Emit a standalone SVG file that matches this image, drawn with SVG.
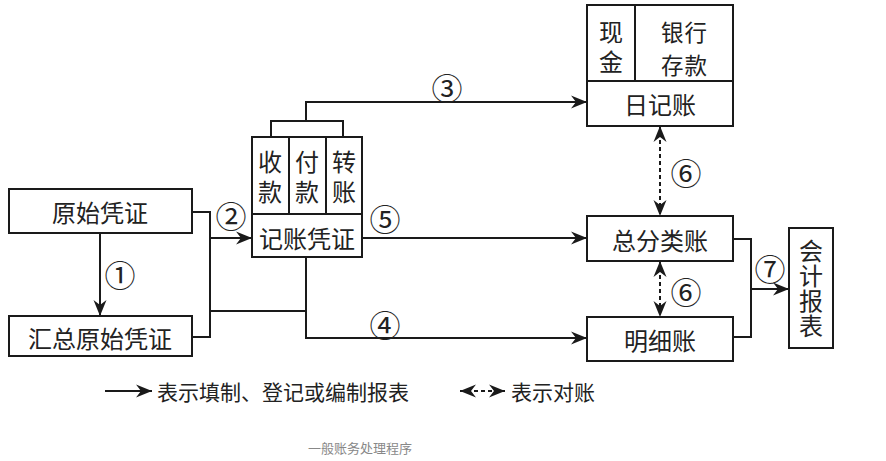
<svg xmlns="http://www.w3.org/2000/svg" width="886" height="461" viewBox="0 0 886 461">
<style>
.bx{fill:#fff;stroke:#1a1a1a;stroke-width:2}
.ln{fill:none;stroke:#1a1a1a;stroke-width:2}
.ar{fill:none;stroke:#1a1a1a;stroke-width:2;marker-end:url(#ah)}
.da{fill:none;stroke:#1a1a1a;stroke-width:2;stroke-dasharray:4 3;marker-start:url(#ahs);marker-end:url(#ah)}
.t{font-family:"Noto Sans CJK SC","Noto Sans",sans-serif;font-size:24px;fill:#222;text-anchor:middle;dominant-baseline:central}
.s{font-family:"Noto Sans CJK SC","Noto Sans",sans-serif;font-size:22.5px;letter-spacing:1px;fill:#222;text-anchor:middle;dominant-baseline:central}
.v{font-family:"Noto Sans CJK SC","Noto Sans",sans-serif;font-size:24px;fill:#222;text-anchor:middle;writing-mode:vertical-rl;letter-spacing:6px}
.n{font-family:"Noto Sans CJK SC","DejaVu Sans",sans-serif;font-size:31px;fill:#222;text-anchor:middle;dominant-baseline:central}
.lg{font-family:"Noto Sans CJK SC","Noto Sans",sans-serif;font-size:21px;fill:#222;dominant-baseline:central}
.cap{font-family:"Noto Sans CJK SC","Noto Sans",sans-serif;font-size:13px;fill:#888;text-anchor:middle;dominant-baseline:central}
</style>
<defs>
<marker id="ah" markerUnits="userSpaceOnUse" markerWidth="18" markerHeight="14" viewBox="0 -7 18 14" refX="16" refY="0" orient="auto">
<path d="M0,-6.5 L16,0 L0,6.5 L5,0 z" fill="#1a1a1a"/>
</marker>
<marker id="ahs" markerUnits="userSpaceOnUse" markerWidth="18" markerHeight="14" viewBox="0 -7 18 14" refX="16" refY="0" orient="auto-start-reverse">
<path d="M0,-6.5 L16,0 L0,6.5 L5,0 z" fill="#1a1a1a"/>
</marker>
</defs>

<g id="connectors">
<path class="ar" d="M100,233 V316"/>
<path class="ln" d="M192,212 H210 V337 H192"/>
<path class="ar" d="M210,238 H252"/>
<path class="ln" d="M210,311 H306"/>
<path class="ln" d="M271,137 V121 H343 V137"/>
<path class="ar" d="M306,121 V102 H587"/>
<path class="ar" d="M362,238 H587"/>
<path class="ar" d="M306,257 V338 H587"/>
<path class="da" d="M660,126 V216"/>
<path class="da" d="M660,261 V317"/>
<path class="ln" d="M733,239 H751 V337 H733"/>
<path class="ar" d="M751,289 H789"/>
<text class="n" x="120" y="273">①</text>
<text class="n" x="231" y="214">②</text>
<text class="n" x="447" y="86">③</text>
<text class="n" x="385" y="323">④</text>
<text class="n" x="385" y="217">⑤</text>
<text class="n" x="686" y="171">⑥</text>
<text class="n" x="686" y="290">⑥</text>
<text class="n" x="770" y="267">⑦</text>
</g>

<g id="yuanshi">
<rect class="bx" x="9" y="189" width="183" height="44"/>
<text class="t" x="100" y="211">原始凭证</text>
</g>

<g id="huizong">
<rect class="bx" x="9" y="316" width="183" height="40"/>
<text class="t" x="100" y="337">汇总原始凭证</text>
</g>

<g id="jizhang">
<rect class="bx" x="252" y="137" width="110" height="120"/>
<path class="ln" d="M252,214 H362 M289,137 V214 M326,137 V214"/>
<text class="v" x="270" y="180">收款</text>
<text class="v" x="307" y="180">付款</text>
<text class="v" x="344" y="180">转账</text>
<text class="t" x="307" y="237">记账凭证</text>
</g>

<g id="rijizhang">
<rect class="bx" x="587" y="5" width="146" height="121"/>
<path class="ln" d="M587,81 H733 M635,5 V81"/>
<text class="v" x="611" y="50">现金</text>
<text class="s" x="684.5" y="30.5">银行</text>
<text class="s" x="684.5" y="63.5">存款</text>
<text class="t" x="660" y="103">日记账</text>
</g>

<g id="zongfenlei">
<rect class="bx" x="587" y="216" width="146" height="45"/>
<text class="t" x="660" y="239">总分类账</text>
</g>

<g id="mingxi">
<rect class="bx" x="587" y="317" width="146" height="44"/>
<text class="t" x="660" y="339">明细账</text>
</g>

<g id="baobiao">
<rect class="bx" x="789" y="228" width="44" height="120"/>
<text class="v" x="811" y="289" style="letter-spacing:1px">会计报表</text>
</g>

<g id="legend">
<path class="ar" d="M105,391 H152"/>
<text class="lg" x="157" y="391">表示填制、登记或编制报表</text>
<path class="da" d="M460,391 H505"/>
<text class="lg" x="511" y="391">表示对账</text>
</g>

<text class="cap" x="360" y="447">一般账务处理程序</text>
</svg>
